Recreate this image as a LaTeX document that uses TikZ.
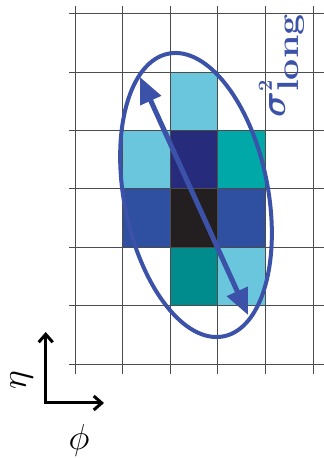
\RequirePackage{fix-cm}
\documentclass[tikz,border=0pt]{standalone}
\usepackage{amsmath,amssymb}
\usepackage{tikz}
\usetikzlibrary{arrows.meta}
\usepackage{xcolor}
\definecolor{cellcyan}{HTML}{6AC6DC}
\definecolor{cellnavy}{HTML}{262B7C}
\definecolor{cellteal}{HTML}{00A8A8}
\definecolor{cellblue}{HTML}{2F4FA0}
\definecolor{cellblack}{HTML}{231F20}
\definecolor{celldeepteal}{HTML}{008C8C}
\definecolor{ellblue}{HTML}{3B52A8}

\begin{document}
\begin{tikzpicture}[x=1pt,y=1pt,>={Straight Barb[length=8pt,width=14pt]},
  gridline/.style={draw=black!70,line width=0.8pt}]
\useasboundingbox (0,0) rectangle (324,458);
% cells
\fill[cellcyan] (170.2,385.9) rectangle (217.8,327.5);
\fill[cellcyan] (122.6,327.5) rectangle (170.2,269.1);
\fill[cellnavy] (170.2,327.5) rectangle (217.8,269.1);
\fill[cellteal] (217.8,327.5) rectangle (265.4,269.1);
\fill[cellblue] (122.6,269.1) rectangle (170.2,210.7);
\fill[cellblack] (170.2,269.1) rectangle (217.8,210.7);
\fill[cellblue] (217.8,269.1) rectangle (265.4,210.7);
\fill[celldeepteal] (170.2,210.7) rectangle (217.8,152.3);
\fill[cellcyan] (217.8,210.7) rectangle (265.4,152.3);
% grid
\draw[gridline] (69,444.3) -- (324,444.3) (69,385.9) -- (324,385.9)
  (69,327.5) -- (324,327.5) (69,269.1) -- (324,269.1)
  (69,210.7) -- (324,210.7) (69,152.3) -- (324,152.3)
  (69,93.9) -- (324,93.9);
\draw[gridline] (75,452) -- (75,84) (122.6,452) -- (122.6,84)
  (170.2,452) -- (170.2,84) (217.8,452) -- (217.8,84)
  (265.4,452) -- (265.4,84) (313,452) -- (313,84);
% ellipse and long axis
\coordinate (centre) at (196,263);
\draw[ellblue,line width=4pt,rotate around={11:(centre)}] (centre) ellipse [x radius=72,y radius=144];
\coordinate (axtop) at (140,381);
\coordinate (axbot) at (248,143);
\draw[ellblue,line width=5pt,{Triangle[length=26pt,width=22pt]}-{Triangle[length=26pt,width=22pt]}] (axtop) -- (axbot);
\node[text=ellblue,rotate=90,anchor=base west,inner sep=0pt] (siglong) at (285,340)
  {\fontsize{36}{36}\selectfont$\boldsymbol{\sigma}^{\mbox{\fontsize{20}{20}\selectfont\bfseries 2}}_{\mbox{\fontsize{30}{30}\selectfont\bfseries\scalebox{1.25}[1]{long}}}$};
% axes
\coordinate (etaend) at (45.7,126);
\coordinate (phiend) at (104,55);
\draw[<->,line width=3pt] (etaend) |- (phiend);
\node[rotate=90,inner sep=0pt,font=\fontsize{36}{36}\selectfont] (eta) at (21.5,78) {$\eta$};
\node[inner sep=0pt,font=\fontsize{36}{36}\selectfont] (phi) at (79,18) {$\phi$};
\end{tikzpicture}
\end{document}
